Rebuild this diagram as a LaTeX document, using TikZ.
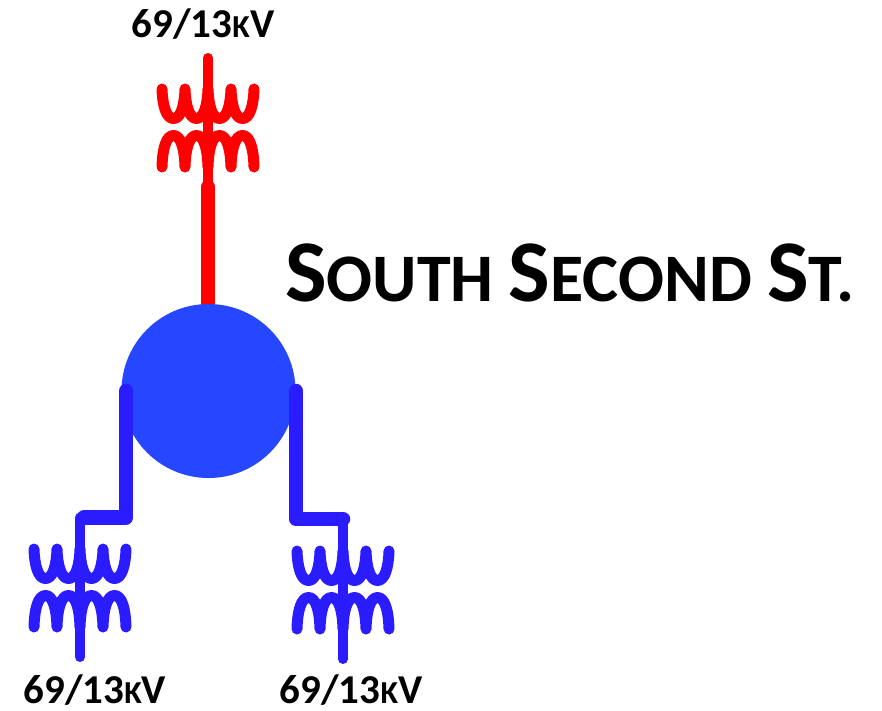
\documentclass[tikz,border=0pt]{standalone}
\usepackage{fontspec}
\setmainfont{Carlito}
\definecolor{busblue}{RGB}{38,70,255}
\definecolor{lineblue}{RGB}{42,28,255}
\definecolor{linered}{RGB}{255,0,0}
\newcommand{\capsA}{\fontsize{88}{90}\selectfont}
\newcommand{\capsB}{\fontsize{68}{70}\selectfont}
\newcommand{\labA}{\fontsize{41}{44}\selectfont}
\newcommand{\labB}{\fontsize{32}{44}\selectfont}
\tikzset{
  x=1pt,y=-1pt,
  winding/.style={line width=11pt,line cap=round,line join=round},
  trunk/.style={line width=14.5pt,line join=round,line cap=round},
  lead/.style={line width=10pt,line cap=round},
  rating/.style={font=\bfseries,text=black,inner sep=0pt,anchor=base},
  pics/xfmr/.style={code={
    \draw[winding,pic actions]
      (-46,-38) .. controls (-45.5,-22) and (-42,-8.5) .. (-34.5,-8.5)
      .. controls (-27,-8.5) and (-23.5,-22) .. (-23,-38)
      .. controls (-22.5,-22) and (-19,-8.5) .. (-11.5,-8.5)
      .. controls (-4,-8.5) and (-0.5,-22) .. (0,-38)
      .. controls (0.5,-22) and (4,-8.5) .. (11.5,-8.5)
      .. controls (19,-8.5) and (22.5,-22) .. (23,-38)
      .. controls (23.5,-22) and (27,-8.5) .. (34.5,-8.5)
      .. controls (42,-8.5) and (45.5,-22) .. (46,-38);
    \draw[winding,pic actions]
      (-46,40) .. controls (-45.5,22) and (-42,8.5) .. (-34.5,8.5)
      .. controls (-27,8.5) and (-23.5,22) .. (-23,40)
      .. controls (-22.5,22) and (-19,8.5) .. (-11.5,8.5)
      .. controls (-4,8.5) and (-0.5,22) .. (0,40)
      .. controls (0.5,22) and (4,8.5) .. (11.5,8.5)
      .. controls (19,8.5) and (22.5,22) .. (23,40)
      .. controls (23.5,22) and (27,8.5) .. (34.5,8.5)
      .. controls (42,8.5) and (45.5,22) .. (46,40);
  }}
}
\begin{document}
\begin{tikzpicture}
\useasboundingbox (0,0) rectangle (882,710);
% transformers
\pic[draw=linered] (tr) at (208,127) {xfmr};
\pic[draw=lineblue] (tl) at (80,587) {xfmr};
\pic[draw=lineblue] (tb) at (343,589) {xfmr};
% red leads, hidden by the bus where they meet it
\coordinate (trTop) at (208,58);
\coordinate (trBus) at (208,320);
\coordinate (trJoin) at (208,187);
\draw[lead,linered] (trTop) -- (trJoin);
\draw[trunk,linered] (trJoin) -- (trBus);
% bus
\node[circle,fill=busblue,draw=none,minimum size=174pt,inner sep=0pt] (bus) at (208.5,391) {};
% blue leads
\coordinate (lA) at (126,391);
\coordinate (lB) at (126,517.5);
\coordinate (lC) at (84,517.5);
\coordinate (lJ) at (80,517.5);
\coordinate (lEnd) at (80,657);
\draw[lead,lineblue] (lJ) -- (lEnd);
\draw[trunk,lineblue] (lA) -- (lB) -- (lC);
\coordinate (rA) at (296,391);
\coordinate (rB) at (296,519);
\coordinate (rC) at (343,519);
\coordinate (rEnd) at (343,659);
\draw[lead,lineblue] (rC) -- (rEnd);
\draw[trunk,lineblue] (rA) -- (rB) -- (rC);
% labels
\node[rating] (lab1) at (203,37) {\labA 69/13\labB K\labA V};
\node[rating] (lab2) at (95,703) {\labA 69/13\labB K\labA V};
\node[rating] (lab3) at (351,703) {\labA 69/13\labB K\labA V};
\node[font=\bfseries,inner sep=0pt,anchor=base] (title) at (570,301)
  {\capsA S\capsB OUTH \capsA S\capsB ECOND \capsA S\capsB T.};
\end{tikzpicture}
\end{document}
